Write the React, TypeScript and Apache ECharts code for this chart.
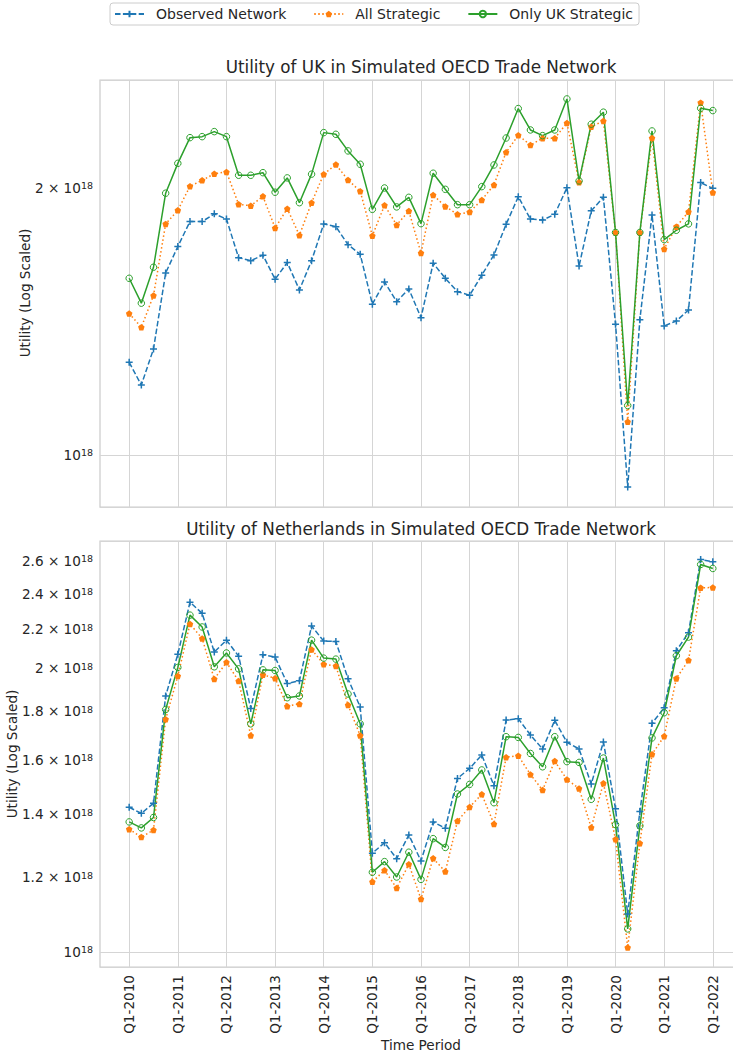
import React, { useEffect, useRef } from "react";
import * as echarts from "echarts";

// Quarterly periods Q1-2010 ... Q1-2022
const periods: string[] = [];
for (let y = 2010; y <= 2022; y++) {
  for (let q = 1; q <= 4; q++) {
    if (y === 2022 && q > 1) break;
    periods.push(`Q${q}-${y}`);
  }
}
const xTickIndices = [0, 4, 8, 12, 16, 20, 24, 28, 32, 36, 40, 44, 48];

const UNIT = 1e18;

// Utility of UK (units of 10^18)
const ukObserved = [
  1.272, 1.199, 1.317, 1.604, 1.718, 1.833, 1.833, 1.87, 1.845, 1.669,
  1.656, 1.68, 1.578, 1.648, 1.535, 1.656, 1.822, 1.809, 1.726, 1.684,
  1.479, 1.567, 1.489, 1.539, 1.428, 1.645, 1.582, 1.528, 1.514, 1.595,
  1.681, 1.82, 1.955, 1.845, 1.84, 1.868, 2.001, 1.633, 1.885, 1.952,
  1.404, 0.92, 1.421, 1.865, 1.398, 1.416, 1.457, 2.028, 1.998,
];
const ukAllStrategic = [
  1.444, 1.393, 1.513, 1.822, 1.887, 2.009, 2.04, 2.075, 2.085, 1.917,
  1.91, 1.957, 1.803, 1.895, 1.769, 1.925, 2.073, 2.125, 2.042, 1.983,
  1.767, 1.912, 1.817, 1.884, 1.689, 1.964, 1.906, 1.868, 1.879, 1.939,
  2.016, 2.194, 2.293, 2.236, 2.275, 2.275, 2.368, 2.03, 2.345, 2.38,
  1.782, 1.09, 1.782, 2.277, 1.707, 1.809, 1.88, 2.496, 1.976,
];
const ukOnlyUK = [
  1.582, 1.483, 1.628, 1.973, 2.132, 2.279, 2.285, 2.315, 2.285, 2.067,
  2.067, 2.081, 1.978, 2.053, 1.925, 2.073, 2.309, 2.299, 2.202, 2.127,
  1.892, 2.0, 1.904, 1.952, 1.823, 2.078, 1.993, 1.915, 1.915, 2.007,
  2.123, 2.277, 2.458, 2.325, 2.291, 2.325, 2.52, 2.037, 2.36, 2.435,
  1.782, 1.137, 1.782, 2.319, 1.749, 1.792, 1.822, 2.46, 2.445,
];

// Utility of Netherlands (units of 10^18)
const nlObserved = [
  1.424, 1.403, 1.438, 1.869, 2.069, 2.35, 2.287, 2.081, 2.142, 2.06,
  1.813, 2.067, 2.055, 1.927, 1.94, 2.217, 2.137, 2.135, 1.949, 1.819,
  1.273, 1.306, 1.256, 1.331, 1.249, 1.374, 1.353, 1.528, 1.566, 1.618,
  1.501, 1.762, 1.768, 1.699, 1.642, 1.761, 1.669, 1.642, 1.507, 1.67,
  1.419, 1.097, 1.409, 1.748, 1.816, 2.087, 2.181, 2.609, 2.594,
];
const nlAllStrategic = [
  1.35, 1.324, 1.347, 1.766, 1.962, 2.228, 2.151, 1.948, 2.029, 1.939,
  1.697, 1.968, 1.952, 1.823, 1.833, 2.094, 2.02, 2.011, 1.828, 1.697,
  1.187, 1.221, 1.169, 1.239, 1.138, 1.257, 1.217, 1.377, 1.425, 1.47,
  1.367, 1.609, 1.615, 1.543, 1.485, 1.594, 1.524, 1.491, 1.355, 1.51,
  1.317, 1.011, 1.304, 1.621, 1.694, 1.951, 2.039, 2.434, 2.436,
];
const nlOnlyUK = [
  1.374, 1.354, 1.389, 1.808, 2.004, 2.277, 2.212, 2.007, 2.076, 1.997,
  1.746, 1.992, 1.989, 1.861, 1.869, 2.142, 2.05, 2.045, 1.878, 1.746,
  1.215, 1.247, 1.201, 1.276, 1.194, 1.319, 1.291, 1.471, 1.506, 1.56,
  1.44, 1.692, 1.689, 1.624, 1.572, 1.692, 1.592, 1.589, 1.452, 1.606,
  1.365, 1.058, 1.361, 1.687, 1.794, 2.062, 2.158, 2.577, 2.552,
];

const ukTickValues = [1, 2];
const nlTickValues = [1, 1.2, 1.4, 1.6, 1.8, 2, 2.2, 2.4, 2.6];

const seriesNames = ["Observed Network", "All Strategic", "Only UK Strategic"];
const titles = [
  "Utility of UK in Simulated OECD Trade Network",
  "Utility of Netherlands in Simulated OECD Trade Network",
];
const yAxisTitle = "Utility (Log Scaled)";
const xAxisTitle = "Time Period";

const TEXT = "#262626";
const GRID = "#d5d5d5";
const FONT = "DejaVu Sans";
const BLUE = "#1f77b4";
const ORANGE = "#ff7f0e";
const GREEN = "#2ca02c";

const PLUS = "path://M5,0L5,10M0,5L10,5";
const PENTAGON = "path://M0,-10L9.51,-3.09L5.88,8.09L-5.88,8.09L-9.51,-3.09Z";

function sciLabel(v: number): string {
  const m = Math.round(v / 1e17) / 10;
  if (Math.abs(m - 1) < 1e-9) return "{b|10}{s|18}";
  return `{b|${m} × 10}{s|18}`;
}

const rich = {
  b: { fontSize: 13.6, color: TEXT, fontFamily: FONT },
  s: { fontSize: 9.5, color: TEXT, fontFamily: FONT, verticalAlign: "top" as const },
};

function toData(arr: number[]) {
  return arr.map((v, i) => [i, v * UNIT]);
}

function makeSeries(gridIdx: number, obs: number[], all: number[], only: number[]) {
  return [
    {
      type: "line",
      name: seriesNames[0],
      xAxisIndex: gridIdx,
      yAxisIndex: gridIdx,
      data: toData(obs),
      symbol: PLUS,
      symbolSize: 7,
      showAllSymbol: true,
      lineStyle: { color: BLUE, width: 1.5, type: [5.5, 2.4] },
      itemStyle: { color: BLUE, borderColor: BLUE, borderWidth: 1.5 },
      emphasis: { disabled: true },
    },
    {
      type: "line",
      name: seriesNames[1],
      xAxisIndex: gridIdx,
      yAxisIndex: gridIdx,
      data: toData(all),
      symbol: PENTAGON,
      symbolSize: 6.5,
      showAllSymbol: true,
      lineStyle: { color: ORANGE, width: 1.5, type: [1.5, 2.5] },
      itemStyle: { color: ORANGE, borderWidth: 0 },
      emphasis: { disabled: true },
    },
    {
      type: "line",
      name: seriesNames[2],
      xAxisIndex: gridIdx,
      yAxisIndex: gridIdx,
      data: toData(only),
      symbol: "circle",
      symbolSize: 6.5,
      showAllSymbol: true,
      lineStyle: { color: GREEN, width: 1.5, type: "solid" },
      itemStyle: { color: "rgba(255,255,255,0)", borderColor: GREEN, borderWidth: 1 },
      emphasis: { disabled: true },
    },
  ];
}

function makeXAxis(gridIdx: number, showLabels: boolean) {
  return {
    type: "value",
    gridIndex: gridIdx,
    min: -2.4,
    max: 50.4,
    axisLine: { show: false },
    axisTick: { show: false, customValues: xTickIndices },
    splitLine: { show: true, lineStyle: { color: GRID, width: 1 } },
    axisLabel: {
      show: showLabels,
      customValues: xTickIndices,
      rotate: 90,
      margin: 8,
      fontSize: 13.6,
      color: TEXT,
      fontFamily: FONT,
      formatter: (v: number) => periods[Math.round(v)],
    },
    name: showLabels ? xAxisTitle : "",
    nameLocation: "middle",
    nameGap: 69,
    nameTextStyle: { fontSize: 13.6, color: TEXT, fontFamily: FONT },
  };
}

function makeYAxis(gridIdx: number, min: number, max: number, ticks: number[]) {
  return {
    type: "log",
    logBase: 10,
    gridIndex: gridIdx,
    min,
    max,
    axisLine: { show: false },
    axisTick: { show: false },
    splitLine: { show: true, lineStyle: { color: GRID, width: 1 } },
    minorSplitLine: { show: false },
    axisLabel: {
      customValues: ticks.map((t) => t * UNIT),
      formatter: (v: number) => sciLabel(v),
      rich,
      margin: 7,
      color: TEXT,
    },
  };
}

function yTitle(x: number, y: number) {
  return {
    type: "text",
    x,
    y,
    rotation: Math.PI / 2,
    style: {
      text: yAxisTitle,
      fill: TEXT,
      font: `13.6px "${FONT}"`,
      align: "center",
      verticalAlign: "middle",
    },
  };
}

export default function App() {
  const ref = useRef<HTMLDivElement>(null);
  useEffect(() => {
    if (!ref.current) return;
    const chart = echarts.init(ref.current, undefined, { renderer: "svg" });
    const gridBase = {
      left: 100,
      width: 642,
      show: true,
      borderColor: "#cccccc",
      borderWidth: 1.25,
      backgroundColor: "transparent",
      containLabel: false,
      outerBoundsMode: "none",
    };
    const option: any = {
      animation: false,
      backgroundColor: "#ffffff",
      textStyle: { fontFamily: FONT },
      title: [
        {
          text: titles[0],
          left: 421,
          top: 58,
          padding: 0,
          textAlign: "center",
          textStyle: { fontSize: 16.8, fontWeight: "normal", color: TEXT, fontFamily: FONT },
        },
        {
          text: titles[1],
          left: 421,
          top: 520,
          padding: 0,
          textAlign: "center",
          textStyle: { fontSize: 16.8, fontWeight: "normal", color: TEXT, fontFamily: FONT },
        },
      ],
      legend: {
        data: seriesNames,
        left: 110,
        top: 3,
        padding: [4, 6, 4, 4],
        itemWidth: 29,
        itemHeight: 8,
        itemGap: 27,
        borderColor: "#cccccc",
        borderWidth: 1,
        borderRadius: 3,
        textStyle: { fontSize: 14, color: TEXT, fontFamily: FONT, padding: [0, 0, 0, 7] },
      },
      graphic: [yTitle(25, 293), yTitle(12, 754)],
      grid: [
        { ...gridBase, top: 80, height: 427 },
        { ...gridBase, top: 541, height: 426 },
      ],
      xAxis: [makeXAxis(0, false), makeXAxis(1, true)],
      yAxis: [
        makeYAxis(0, 0.8737 * UNIT, 2.647 * UNIT, ukTickValues),
        makeYAxis(1, 0.964 * UNIT, 2.729 * UNIT, nlTickValues),
      ],
      series: [
        ...makeSeries(0, ukObserved, ukAllStrategic, ukOnlyUK),
        ...makeSeries(1, nlObserved, nlAllStrategic, nlOnlyUK),
      ],
    };
    chart.setOption(option);
    return () => chart.dispose();
  }, []);
  return (
    <div
      ref={ref}
      style={{ position: "fixed", left: 0, top: 0, width: 733, height: 1055, background: "#fff" }}
    />
  );
}
